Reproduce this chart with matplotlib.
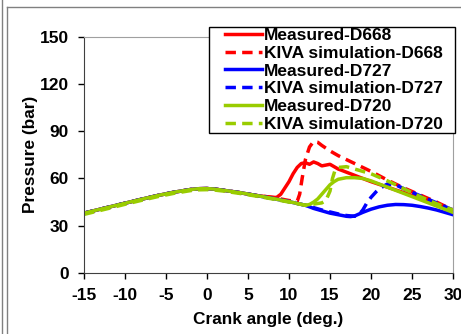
import matplotlib
matplotlib.use("Agg")
import matplotlib.pyplot as plt
from matplotlib.lines import Line2D
from matplotlib.patches import Rectangle

plt.rcParams['font.family'] = ['Liberation Sans', 'DejaVu Sans']
plt.rcParams['font.weight'] = 'bold'
plt.rcParams['axes.unicode_minus'] = False

# =======================
# Données
# =======================
# partie compression commune
x_comp = [-15, -12, -10, -8, -6, -4, -2, -1, 0, 1, 2, 4, 6, 8]
y_comp = [38, 41.8, 44.3, 46.8, 49.2, 51.3, 53, 53.5, 53.6, 53.2, 52.5, 51, 49.2, 47.3]

x_meas_668 = x_comp + [8.5, 9, 9.5, 10, 10.5, 11, 11.5, 12, 12.5, 13, 13.5, 14, 14.5, 15, 15.5, 16,
                       17, 18, 19, 20, 22, 24, 26, 28, 30]
y_meas_668 = y_comp[:-1] + [48, 48, 50, 54, 58, 63, 67, 69.5, 70, 69, 70.5, 69.5, 68, 68.5, 69, 67.5, 66,
                            64, 62, 60, 58, 54.5, 51, 47.5, 43.5, 39.5]

x_kiva_668 = x_comp + [10, 11, 11.3, 11.6, 12, 12.5, 13, 13.5, 14, 15, 16, 17, 18, 20, 22, 24, 26, 28, 30]
y_kiva_668 = y_comp[:-1] + [48, 46, 45.5, 50, 60, 72, 80, 83.5, 83, 81, 77.5, 74.5, 72, 69.5, 64.5, 59,
                            54, 49.5, 45, 40]

x_meas_727 = x_comp + [10, 12, 13, 14, 15, 16, 17, 17.5, 18, 19, 20, 21, 22, 23, 24, 25, 26, 27, 28, 29, 30]
y_meas_727 = y_comp + [45.3, 43, 41, 39.5, 38, 37, 36, 35.8, 36.2, 38.5, 40.5, 42, 43, 43.5, 43.4, 43,
                       42.2, 41.2, 40, 38.5, 37]

x_kiva_727 = x_comp + [10, 12, 14, 16, 17, 18, 18.5, 19, 19.5, 20, 20.7, 21, 22, 23, 24, 26, 28, 30]
y_kiva_727 = y_comp + [45.3, 43, 40, 37.5, 36.5, 36, 37, 40, 44.5, 48, 52, 53.5, 56.5, 56, 53.5, 49, 44.5, 40]

x_meas_720 = x_comp + [10, 12, 12.5, 13, 13.5, 14, 14.5, 15, 15.5, 16, 17, 18, 19, 20, 22, 24, 26, 28, 30]
y_meas_720 = y_comp + [45.3, 43, 43.5, 45, 47, 50, 53, 56, 58, 59.5, 60.5, 60.5, 60, 58.5, 54.5, 50.5,
                       46.5, 42.5, 38.5]

x_kiva_720 = [-15, -12, -10, -8, -6, -4, -2, -1, 0, 1, 2, 4, 6, 8, 10, 12, 14, 14.5, 15, 15.3, 15.6, 16,
              17, 18, 19, 20, 22, 24, 26, 28, 30]
y_kiva_720 = [37.2, 41, 43.6, 46.1, 48.5, 50.6, 52.3, 52.8, 52.9, 52.6, 52, 50.5, 48.8, 47, 45, 43,
              44.5, 46, 52, 60, 65, 67, 67.5, 66, 64.5, 63, 58.5, 53.5, 48.5, 44, 40]

RED = "#FF0000"
BLUE = "#0000FF"
GREEN = "#99CC00"
DASH = (3, 1.8)

W, H = 461, 334

# =======================
# Figure
# =======================
fig = plt.figure(figsize=(W / 100, H / 100), dpi=100)
ax = fig.add_axes([84 / W, 1 - 273 / H, (453 - 84) / W, (273 - 36.7) / H])

# cadre de la zone graphique (style Excel)
fig.add_artist(Line2D([2 / W, 2 / W], [0, 1], color="#808080", lw=1))
fig.add_artist(Line2D([7 / W, 7 / W], [0, 1 - 7 / H], color="#808080", lw=1))
fig.add_artist(Line2D([7 / W, 1], [1 - 7 / H, 1 - 7 / H], color="#808080", lw=1))

lw = 2.5
ax.plot(x_meas_668, y_meas_668, color=RED, lw=lw, label="Measured-D668")
ax.plot(x_kiva_668, y_kiva_668, color=RED, lw=lw, dashes=DASH, label="KIVA simulation-D668")
ax.plot(x_meas_727, y_meas_727, color=BLUE, lw=lw, label="Measured-D727")
ax.plot(x_kiva_727, y_kiva_727, color=BLUE, lw=lw, dashes=DASH, label="KIVA simulation-D727")
ax.plot(x_meas_720, y_meas_720, color=GREEN, lw=lw, label="Measured-D720")
ax.plot(x_kiva_720, y_kiva_720, color=GREEN, lw=lw, dashes=DASH, label="KIVA simulation-D720")

ax.set_xlim(-15, 30)
ax.set_ylim(0, 150)
ax.set_xticks(range(-15, 31, 5))
ax.set_yticks(range(0, 151, 30))
ax.tick_params(direction="out", length=4, width=1, labelsize=12.5, pad=7)
for lab in ax.get_xticklabels() + ax.get_yticklabels():
    lab.set_fontweight("bold")

ax.spines["left"].set_color("#404040")
ax.spines["bottom"].set_color("#404040")
ax.spines["top"].set_color("#A0A0A0")
ax.spines["right"].set_color("#A0A0A0")

ax.set_xlabel("Crank angle (deg.)", fontsize=12.4, fontweight="bold", labelpad=6)
ax.set_ylabel("Pressure (bar)", fontsize=12.4, fontweight="bold", labelpad=1)

# cadre de la légende dessiné à part (marges gauche/haut différentes)
fig.add_artist(Rectangle((209 / W, 1 - 133 / H), (455 - 209) / W, (133 - 27) / H,
                         transform=fig.transFigure, facecolor="white", edgecolor="black",
                         lw=1, zorder=4))
leg = fig.legend(loc="upper left", bbox_to_anchor=(224 / W, 1 - 27 / H),
                 prop={"size": 12.5, "weight": "bold"}, frameon=False,
                 borderaxespad=0, borderpad=0.05, labelspacing=0.15, handlelength=2.15,
                 handletextpad=0.1)
leg.set_zorder(5)

fig.savefig("out.png", dpi=100)
